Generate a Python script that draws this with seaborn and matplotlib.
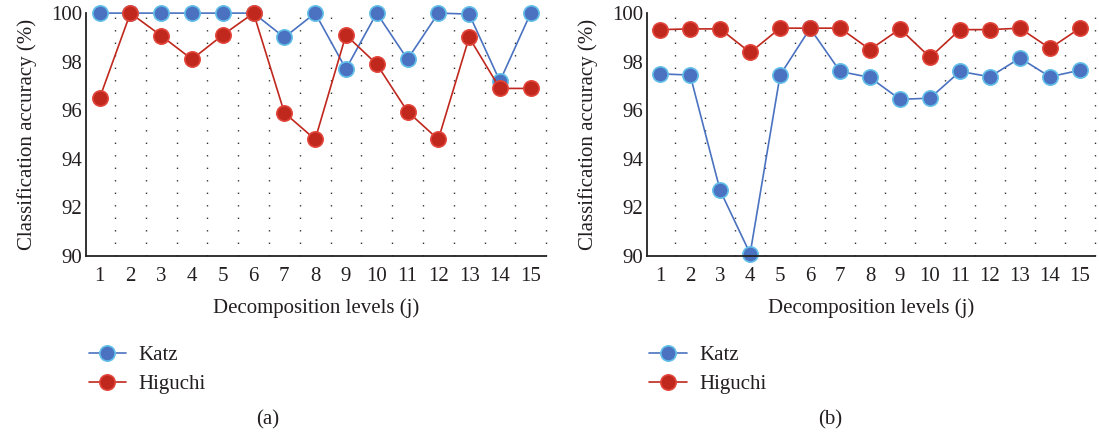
import numpy as np
import pandas as pd
import seaborn as sns
import matplotlib
matplotlib.use("Agg")
import matplotlib.pyplot as plt
from matplotlib.lines import Line2D

# decomposition levels
levels = list(range(1, 16))

# panel (a)
katz_a = [100, 100, 100, 100, 100, 100, 99.0, 100, 97.7, 100, 98.1, 100, 99.96, 97.2, 100]
higuchi_a = [96.5, 100, 99.07, 98.1, 99.1, 100, 95.9, 94.8, 99.1, 97.9, 95.95, 94.8, 99.0, 96.9, 96.9]

# panel (b)
katz_b = [97.5, 97.45, 92.7, 90.1, 97.45, 99.37, 97.6, 97.35, 96.45, 96.5, 97.6, 97.38, 98.15, 97.38, 97.65]
higuchi_b = [99.32, 99.35, 99.35, 98.38, 99.38, 99.38, 99.38, 98.5, 99.35, 98.18, 99.32, 99.32, 99.38, 98.55, 99.38]

panel_labels = ["(a)", "(b)"]
series_names = ["Katz", "Higuchi"]

BLUE = "#4a72c0"
BLUE_EDGE = "#63c0ea"
RED = "#c0271d"
RED_EDGE = "#e2453a"
TEXT = "#231f20"
FS = 15

sns.set_style("white")
plt.rcParams["font.family"] = ["Liberation Serif", "DejaVu Serif"]
plt.rcParams["text.color"] = TEXT
plt.rcParams["axes.labelcolor"] = TEXT
plt.rcParams["xtick.color"] = TEXT
plt.rcParams["ytick.color"] = TEXT

fig = plt.figure(figsize=(10.99, 4.37), dpi=100)
ax_a = fig.add_axes([0.0783, 0.414, 0.4186, 0.556])
ax_b = fig.add_axes([0.5887, 0.414, 0.4076, 0.556])

styles = {
    "Katz": dict(color=BLUE, markeredgecolor=BLUE_EDGE),
    "Higuchi": dict(color=RED, markeredgecolor=RED_EDGE),
}

for ax, (katz, higuchi) in zip([ax_a, ax_b], [(katz_a, higuchi_a), (katz_b, higuchi_b)]):
    # dotted separators between levels
    for xv in np.arange(1.5, 16, 1):
        ax.axvline(xv, color="#333333", lw=1.0, ls=(0, (1, 8)), zorder=0)

    for name, vals in zip(series_names, [katz, higuchi]):
        sns.lineplot(x=levels, y=vals, ax=ax, marker="o", markersize=11,
                     markeredgewidth=1.2, lw=1.2, **styles[name])

    ax.set_xlim(0.56, 15.5)
    ax.set_ylim(90, 100)
    ax.set_xticks(levels)
    ax.set_yticks(range(90, 101, 2))
    ax.tick_params(axis="x", length=0, labelsize=FS, pad=8)
    ax.tick_params(axis="y", length=0, labelsize=FS, pad=3)
    for side in ["top", "right"]:
        ax.spines[side].set_visible(False)
    for side in ["left", "bottom"]:
        ax.spines[side].set_color("#222222")
        ax.spines[side].set_linewidth(1.3)
    ax.set_xlabel("Decomposition levels (j)", fontsize=FS, labelpad=9)
    ax.set_ylabel("Classification accuracy (%)", fontsize=FS, labelpad=10)
    for l in ax.lines:
        l.set_clip_on(False)

# legends and panel tags below each plot
handles = [Line2D([], [], marker="o", markersize=11, markeredgewidth=1.2, lw=1.2, **styles[n]) for n in series_names]
for x0, xtag, lab in [(0.073, 0.244, "(a)"), (0.583, 0.755, "(b)")]:
    fig.legend(handles, series_names, loc="upper left", bbox_to_anchor=(x0, 0.228),
               frameon=False, fontsize=FS, handlelength=1.8, handletextpad=0.6,
               labelspacing=0.45, borderaxespad=0)
    fig.text(xtag, 0.040, lab, ha="center", va="center", fontsize=FS)

plt.savefig("out.png", dpi=100)
